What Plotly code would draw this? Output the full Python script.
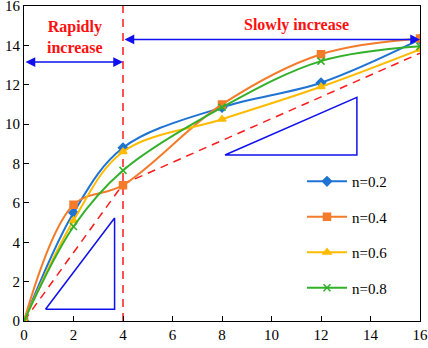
import plotly.graph_objects as go

x = [0, 2, 4, 8, 12, 16]
series = {
    "n=0.2": [0, 5.5, 8.8, 10.85, 12.1, 14.3],
    "n=0.4": [0, 5.9, 6.9, 11.0, 13.55, 14.35],
    "n=0.6": [0, 5.1, 8.6, 10.25, 11.9, 13.8],
    "n=0.8": [0, 4.8, 7.65, 10.85, 13.2, 13.95],
}
colors = {"n=0.2": "#1f73d2", "n=0.4": "#f47b2a", "n=0.6": "#ffbb00", "n=0.8": "#33b02a"}
symbols = {"n=0.2": "diamond", "n=0.4": "square", "n=0.6": "triangle-up", "n=0.8": "x-thin"}

# reference dashed lines
ref_x = [0, 4, 16]
ref_y = [0, 6.95, 13.6]
vline_x = [4, 4]
vline_y = [0, 16]

# slope triangles
tri1_x = [0.87, 3.66, 3.66, 0.87]
tri1_y = [0.6, 0.6, 5.23, 0.6]
tri2_x = [8.12, 13.45, 13.45, 8.12]
tri2_y = [8.43, 8.43, 11.36, 8.43]

font = "Times New Roman, Liberation Serif, serif"

fig = go.Figure()
fig.add_trace(go.Scatter(x=ref_x, y=ref_y, mode="lines", line=dict(color="#ff1a1a", width=1.5, dash="8px,6px"), showlegend=False))
fig.add_trace(go.Scatter(x=vline_x, y=vline_y, mode="lines", line=dict(color="#ff1a1a", width=1.5, dash="8px,6px"), showlegend=False))
fig.add_trace(go.Scatter(x=tri1_x, y=tri1_y, mode="lines", line=dict(color="#1010ee", width=1.5), showlegend=False))
fig.add_trace(go.Scatter(x=tri2_x, y=tri2_y, mode="lines", line=dict(color="#1010ee", width=1.5), showlegend=False))

for i, (name, ys) in enumerate(series.items()):
    fig.add_trace(go.Scatter(
        x=x, y=ys, name=name, mode="lines+markers", legendgroup=name,
        line=dict(color=colors[name], width=2, shape="spline", smoothing=1),
        marker=dict(symbol=symbols[name], size=7, color=colors[name],
                    line=dict(color=colors[name], width=1.5)),
    ))

# arrows
arrows = [
    (0, 4, 13.15),
    (4, 16, 14.3),
]
for x0, x1, ya in arrows:
    fig.add_annotation(x=x1, y=ya, ax=x0, ay=ya, xref="x", yref="y", axref="x", ayref="y",
                       showarrow=True, arrowhead=2, startarrowhead=2, arrowside="end+start",
                       arrowsize=1.3, startarrowsize=1.3, arrowwidth=1.5, arrowcolor="#1010ee", text="")

fig.add_annotation(x=2.05, y=14.45, text="<b>Rapidly<br>increase</b>", showarrow=False,
                   font=dict(family=font, size=16, color="#ff1010"), xref="x", yref="y")
fig.add_annotation(x=11.0, y=15.05, text="<b>Slowly increase</b>", showarrow=False,
                   font=dict(family=font, size=16, color="#ff1010"), xref="x", yref="y")

axis_common = dict(showgrid=False, zeroline=False, showline=True, linecolor="black", linewidth=1.2,
                   mirror=True, ticks="inside", ticklen=5, tickcolor="black", ticklabeloverflow="allow",
                   automargin=False, tickfont=dict(family=font, size=15, color="black"))
fig.update_xaxes(range=[0, 16], dtick=2, **axis_common)
fig.update_yaxes(range=[0, 16], dtick=2, **axis_common)

fig.update_layout(
    width=428, height=348, margin=dict(l=24, r=8, t=6, b=27, autoexpand=False),
    plot_bgcolor="white", paper_bgcolor="white",
    font=dict(family=font),
    legend=dict(x=0.702, y=0.495, xanchor="left", yanchor="top", bgcolor="rgba(0,0,0,0)",
                font=dict(family=font, size=15, color="black"), tracegroupgap=13, itemwidth=40),
)
fig.write_html("out.html", config={"displayModeBar": False},
               post_script="document.body.style.margin='0';document.body.style.padding='0';")
